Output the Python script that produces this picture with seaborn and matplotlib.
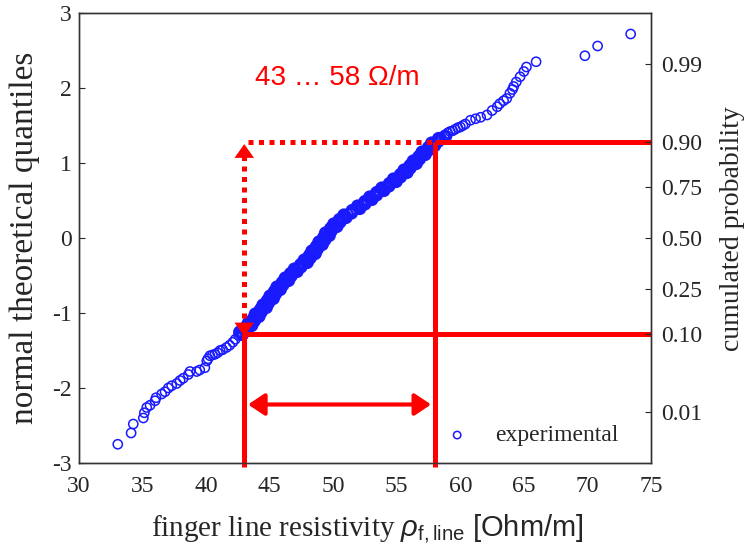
import matplotlib
matplotlib.use("Agg")
import matplotlib.pyplot as plt
import pandas as pd
import seaborn as sns
from statistics import NormalDist

# ---- data ----
resistivity = [
    33.05, 34.10, 34.27, 35.06, 35.14, 35.33, 35.59, 35.98, 36.06, 36.50,
    36.77, 37.03, 37.29, 37.69, 37.95, 38.20, 38.60, 38.73, 39.26, 39.50,
    39.90, 40.05, 40.15, 40.30, 40.50, 40.70, 40.90, 41.10, 41.30, 41.60,
    41.85, 42.10, 42.30,
    42.55, 42.75, 42.95, 43.10, 43.30, 43.45, 43.60, 43.75, 43.90, 44.00,
    44.15, 44.30, 44.45, 44.60, 44.75, 44.85, 45.00, 45.15, 45.30, 45.40,
    45.55, 45.70, 45.85, 46.00, 46.20, 46.35, 46.50, 46.65, 46.85, 47.05,
    47.25, 47.45, 47.65, 47.85, 48.00, 48.15, 48.30, 48.45, 48.60, 48.70,
    48.85, 49.00, 49.15, 49.30, 49.40, 49.55, 49.65, 49.80, 50.00, 50.15,
    50.35, 50.50, 50.70, 50.90, 51.20, 51.45, 51.75, 52.00, 52.25, 52.50,
    52.70, 52.95, 53.20, 53.40, 53.65, 53.90, 54.15, 54.40, 54.65, 54.85,
    55.05, 55.30, 55.50, 55.70, 55.85, 56.05, 56.25, 56.40, 56.60, 56.75,
    56.95, 57.10, 57.30, 57.50, 57.70, 57.85, 58.05, 58.30, 58.50, 58.75,
    59.00, 59.20, 59.40, 59.60, 59.80, 60.00, 60.20, 60.40, 60.80, 61.20,
    61.60, 62.10, 62.50, 62.90, 63.10, 63.40, 63.65, 63.90, 64.10, 64.20,
    64.40, 64.70, 65.00, 65.20, 65.96, 69.80, 70.80, 73.40,
]
quantile = [
    -2.75, -2.60, -2.48, -2.40, -2.33, -2.26, -2.23, -2.17, -2.13, -2.08,
    -2.05, -2.00, -1.97, -1.94, -1.90, -1.87, -1.82, -1.78, -1.78, -1.76,
    -1.73, -1.64, -1.61, -1.57, -1.56, -1.55, -1.53, -1.50, -1.49, -1.46,
    -1.43, -1.39, -1.35,
    -1.30, -1.27, -1.24, -1.21, -1.18, -1.15, -1.12, -1.09, -1.06, -1.03,
    -1.00, -0.97, -0.94, -0.91, -0.88, -0.85, -0.82, -0.79, -0.76, -0.73,
    -0.70, -0.67, -0.64, -0.61, -0.58, -0.55, -0.52, -0.49, -0.46, -0.43,
    -0.40, -0.37, -0.34, -0.31, -0.28, -0.25, -0.22, -0.19, -0.16, -0.13,
    -0.10, -0.07, -0.04, -0.01, 0.02, 0.05, 0.08, 0.11, 0.14, 0.17,
    0.20, 0.23, 0.26, 0.29, 0.32, 0.35, 0.38, 0.41, 0.44, 0.47,
    0.50, 0.53, 0.56, 0.59, 0.62, 0.65, 0.68, 0.71, 0.74, 0.77,
    0.80, 0.83, 0.86, 0.89, 0.92, 0.95, 0.98, 1.01, 1.04, 1.07,
    1.10, 1.13, 1.16, 1.19, 1.22, 1.25, 1.28, 1.31, 1.34, 1.37,
    1.40, 1.42, 1.43, 1.45, 1.47, 1.48, 1.50, 1.52, 1.57, 1.59,
    1.61, 1.64, 1.70, 1.75, 1.79, 1.83, 1.86, 1.93, 1.98, 2.02,
    2.08, 2.15, 2.22, 2.28, 2.35, 2.43, 2.56, 2.72,
]
# additional samples in the dense central band (heavily overlapping circles)
resistivity_band = [
    42.85, 42.65, 43.13, 43.10, 43.58, 43.33, 43.78, 43.73, 44.15, 43.88,
    44.33, 44.28, 44.73, 44.48, 44.90, 44.83, 45.28, 45.03, 45.45, 45.38,
    45.83, 45.58, 46.03, 46.00, 46.48, 46.23, 46.68, 46.65, 47.15, 46.95,
    47.45, 47.45, 47.95, 47.73, 48.18, 48.13, 48.58, 48.33, 48.75, 48.68,
    49.13, 48.88, 49.33, 49.25, 49.68, 49.40, 49.83, 49.80, 50.28, 50.05,
    50.53, 50.50, 51.00, 50.85, 51.43, 51.50, 52.08, 51.93, 52.48, 52.50,
    53.03, 52.88, 53.40, 53.43, 53.98, 53.83, 54.38, 54.43, 54.95, 54.75,
    55.28, 55.30, 55.80, 55.58, 56.05, 56.05, 56.53, 56.30, 56.78, 56.75,
    57.23, 57.00, 57.50, 57.50, 57.98, 57.75, 58.28, 58.30, 58.83,
]
quantile_band = [
    -1.285, -1.255, -1.225, -1.195, -1.165, -1.135, -1.105, -1.075, -1.045, -1.015,
    -0.985, -0.955, -0.925, -0.895, -0.865, -0.835, -0.805, -0.775, -0.745, -0.715,
    -0.685, -0.655, -0.625, -0.595, -0.565, -0.535, -0.505, -0.475, -0.445, -0.415,
    -0.385, -0.355, -0.325, -0.295, -0.265, -0.235, -0.205, -0.175, -0.145, -0.115,
    -0.085, -0.055, -0.025, 0.005, 0.035, 0.065, 0.095, 0.125, 0.155, 0.185,
    0.215, 0.245, 0.275, 0.305, 0.335, 0.365, 0.395, 0.425, 0.455, 0.485,
    0.515, 0.545, 0.575, 0.605, 0.635, 0.665, 0.695, 0.725, 0.755, 0.785,
    0.815, 0.845, 0.875, 0.905, 0.935, 0.965, 0.995, 1.025, 1.055, 1.085,
    1.115, 1.145, 1.175, 1.205, 1.235, 1.265, 1.295, 1.325, 1.355,
]

x_ticks = [30, 35, 40, 45, 50, 55, 60, 65, 70, 75]
y_ticks = [-3, -2, -1, 0, 1, 2, 3]
prob_ticks = [0.01, 0.10, 0.25, 0.50, 0.75, 0.90, 0.99]
prob_labels = ["0.01", "0.10", "0.25", "0.50", "0.75", "0.90", "0.99"]

lower_bound = 43      # Ohm/m at 10 %
upper_bound = 58      # Ohm/m at 90 %
p_low, p_high = 0.10, 0.90
range_text = "43 \u2026 58 \u03a9/m"
arrow_level = -2.22

# ---- style ----
sns.set_style("white")
plt.rcParams["font.family"] = ["Liberation Serif", "DejaVu Serif"]
plt.rcParams["mathtext.fontset"] = "custom"
plt.rcParams["mathtext.rm"] = "Liberation Sans"
plt.rcParams["mathtext.it"] = "Liberation Sans:italic"
plt.rcParams["mathtext.bf"] = "Liberation Sans:bold"

RED = "#ff0000"
BLUE = "#1a1aff"

fig = plt.figure(figsize=(7.45, 5.49), dpi=100)
ax = fig.add_axes([79 / 745, 1 - 463 / 549, (651 - 79) / 745, (463 - 13) / 549])

df = pd.DataFrame({"resistivity": resistivity, "quantile": quantile})
df_band = pd.DataFrame({"resistivity": resistivity_band, "quantile": quantile_band})
sns.scatterplot(data=df_band, x="resistivity", y="quantile", ax=ax, marker="o",
                s=52, color=BLUE, facecolor="none", edgecolor=BLUE,
                linewidth=2.5, zorder=2, legend=False)
sns.scatterplot(data=df, x="resistivity", y="quantile", ax=ax, marker="o",
                s=44, color=BLUE, facecolor="none", edgecolor=BLUE,
                linewidth=1.1, label="experimental", zorder=2)

ax.set_xlim(30, 75)
ax.set_ylim(-3, 3)
ax.set_xticks(x_ticks)
ax.set_yticks(y_ticks)
ax.set_xticklabels([str(v) for v in x_ticks], fontsize=17)
ax.set_yticklabels([str(v) for v in y_ticks], fontsize=17)
ax.tick_params(direction="in", length=4, width=0.8, pad=5)
ax.tick_params(axis="x", pad=9)
for sp in ax.spines.values():
    sp.set_color("#333333")
    sp.set_linewidth(1.0)

ax.set_xlabel(r"finger line resistivity $\rho_{\mathrm{f,line}}$ $\mathrm{[Ohm/m]}$",
              fontsize=21)
ax.xaxis.set_label_coords(0.505, -0.11)
ax.set_ylabel("normal theoretical quantiles", fontsize=24)
ax.yaxis.set_label_coords(-0.068, 0.5)

# right probability axis
nd = NormalDist()
ax2 = ax.twinx()
ax2.set_ylim(-3, 3)
ax2.set_yticks([nd.inv_cdf(p) for p in prob_ticks])
ax2.set_yticklabels(prob_labels, fontsize=17)
ax2.tick_params(direction="in", length=4, width=0.8, pad=7)
ax2.set_ylabel("cumulated probability", fontsize=20)
ax2.yaxis.set_label_coords(1.12, 0.52)
for sp in ax2.spines.values():
    sp.set_color("#333333")
    sp.set_linewidth(1.0)

# ---- red annotations ----
q_low = nd.inv_cdf(p_low)
q_high = nd.inv_cdf(p_high)
lw = 3.6
ax.plot([lower_bound, lower_bound], [-3.05, q_low], color=RED, lw=lw,
        clip_on=False, zorder=4, solid_capstyle="butt")
ax.plot([upper_bound, upper_bound], [-3.05, q_high], color=RED, lw=lw,
        clip_on=False, zorder=4, solid_capstyle="butt")
ax.plot([lower_bound, 75], [q_low, q_low], color=RED, lw=lw, zorder=4,
        solid_capstyle="butt", clip_on=False)
ax.plot([upper_bound, 75], [q_high, q_high], color=RED, lw=lw, zorder=4,
        solid_capstyle="butt", clip_on=False)

# dotted path
ax.plot([lower_bound, lower_bound], [q_low + 0.22, q_high - 0.18], color=RED,
        lw=3.6, ls=(0, (1, 1.1)), zorder=4)
ax.plot([lower_bound + 0.3, upper_bound], [q_high, q_high], color=RED,
        lw=3.6, ls=(0, (1, 1.1)), zorder=4)
head = dict(arrowstyle="-|>,head_length=0.45,head_width=0.32", color=RED,
            lw=0, mutation_scale=22, shrinkA=0, shrinkB=0)
ax.annotate("", xy=(lower_bound, q_high - 0.03), xytext=(lower_bound, q_high - 0.5),
            arrowprops=head, zorder=5)
ax.annotate("", xy=(lower_bound, q_low - 0.03), xytext=(lower_bound, q_low + 0.5),
            arrowprops=head, zorder=5)

# double arrow between the bounds
ax.annotate("", xy=(lower_bound + 0.3, arrow_level), xytext=(upper_bound - 0.3, arrow_level),
            arrowprops=dict(arrowstyle="<|-|>,head_length=0.45,head_width=0.3",
                            color=RED, lw=3.0, mutation_scale=22,
                            shrinkA=0, shrinkB=0), zorder=5)

ax.text(43.85, 2.04, range_text, color=RED, fontsize=20,
        family=["Liberation Sans", "DejaVu Sans"], va="baseline", ha="left")

leg = ax.legend(loc="lower right", frameon=False, fontsize=17,
                handletextpad=0.6, markerscale=0.8,
                bbox_to_anchor=(0.98, -0.01))

fig.savefig("out.png", dpi=100)
